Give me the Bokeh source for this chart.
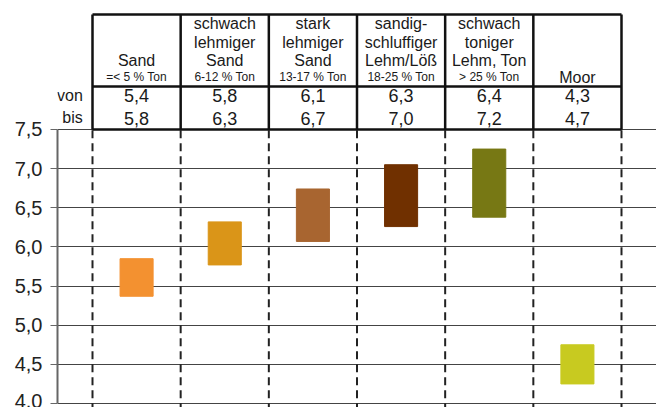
from bokeh.plotting import figure
from bokeh.models import FixedTicker, Range1d, ColumnDataSource
from bokeh.core.properties import value
from bokeh.embed import file_html
from bokeh.resources import INLINE

# ---- data ----
soil_line1 = ["", "schwach", "stark", "sandig-", "schwach", ""]
soil_line2 = ["", "lehmiger", "lehmiger", "schluffiger", "toniger", ""]
soil_line3 = ["Sand", "Sand", "Sand", "Lehm/Löß", "Lehm, Ton", ""]
clay_share = ["=< 5 % Ton", "6-12 % Ton", "13-17 % Ton", "18-25 % Ton", "> 25 % Ton", ""]
moor_label = "Moor"
von_text = ["5,4", "5,8", "6,1", "6,3", "6,4", "4,3"]
bis_text = ["5,8", "6,3", "6,7", "7,0", "7,2", "4,7"]
bar_low = [5.37, 5.77, 6.07, 6.26, 6.38, 4.25]
bar_high = [5.85, 6.32, 6.74, 7.05, 7.25, 4.75]
bar_colors = ["#F39130", "#DA9518", "#A86530", "#703000", "#777814", "#C8CA20"]
y_ticks = [4.0, 4.5, 5.0, 5.5, 6.0, 6.5, 7.0, 7.5]
y_tick_labels = ["4,0", "4,5", "5,0", "5,5", "6,0", "6,5", "7,0", "7,5"]

n = len(von_text)
centers = [i + 0.5 for i in range(n)]
FONT = value("Liberation Sans")

p = figure(width=656, height=407, output_backend="svg", toolbar_location=None,
           x_axis_location=None,
           x_range=Range1d(-0.397, 6.397), y_range=Range1d(3.949, 9.1477),
           min_border_left=57, min_border_right=0, min_border_top=0, min_border_bottom=0)
p.outline_line_color = None
p.xgrid.visible = False
p.ygrid.grid_line_color = "#444444"
p.ygrid.grid_line_width = 1
p.ygrid.ticker = FixedTicker(ticks=y_ticks)

ax = p.yaxis[0]
ax.ticker = FixedTicker(ticks=y_ticks)
ax.major_label_overrides = {t: l for t, l in zip(y_ticks, y_tick_labels)}
ax.bounds = (y_ticks[0], y_ticks[-1])
ax.axis_line_color = "#666666"
ax.axis_line_width = 2
ax.major_tick_out = 7
ax.major_tick_in = 0
ax.major_tick_line_color = "#666666"
ax.minor_tick_line_color = None
ax.major_label_standoff = 8
ax.major_label_text_font = "Liberation Sans"
ax.major_label_text_font_size = "20px"
ax.major_label_text_color = "#222222"

# dashed column separators in plot area
bounds_x = list(range(n + 1))
p.segment(x0=bounds_x, y0=[3.9] * (n + 1), x1=bounds_x, y1=[y_ticks[-1]] * (n + 1),
          line_color="#222222", line_width=2, line_dash="8 5")

# bars
src = ColumnDataSource(dict(x=centers, bottom=bar_low, top=bar_high, color=bar_colors))
p.vbar(x="x", bottom="bottom", top="top", width=0.375, color="color", source=src)

# table
t_top, t_mid, t_bot = 8.969, 8.049, 7.5
p.segment(x0=bounds_x, y0=[t_bot] * (n + 1), x1=bounds_x, y1=[t_top] * (n + 1),
          line_color="#111111", line_width=2.5)
p.segment(x0=[0, 0, 0], y0=[t_top, t_mid, t_bot], x1=[n, n, n], y1=[t_top, t_mid, t_bot],
          line_color="#111111", line_width=2.5)

def txt(xs, ys, texts, size, align="center"):
    p.text(x=xs, y=ys, text=texts, text_font=FONT, text_font_size=size,
           text_align=align, text_baseline="middle", text_color="#1a1a1a")

txt(centers, [8.85] * n, soil_line1, "16px")
txt(centers, [8.615] * n, soil_line2, "16px")
txt(centers, [8.385] * n, soil_line3, "16px")
txt(centers, [8.175] * n, clay_share, "12px")
txt([centers[-1]], [8.16], [moor_label], "16px")
txt(centers, [7.93] * n, von_text, "18px")
txt(centers, [7.645] * n, bis_text, "18px")
txt([-0.11, -0.11], [7.935, 7.655], ["von", "bis"], "16px", align="right")

open("out.html", "w").write(file_html(p, INLINE))
